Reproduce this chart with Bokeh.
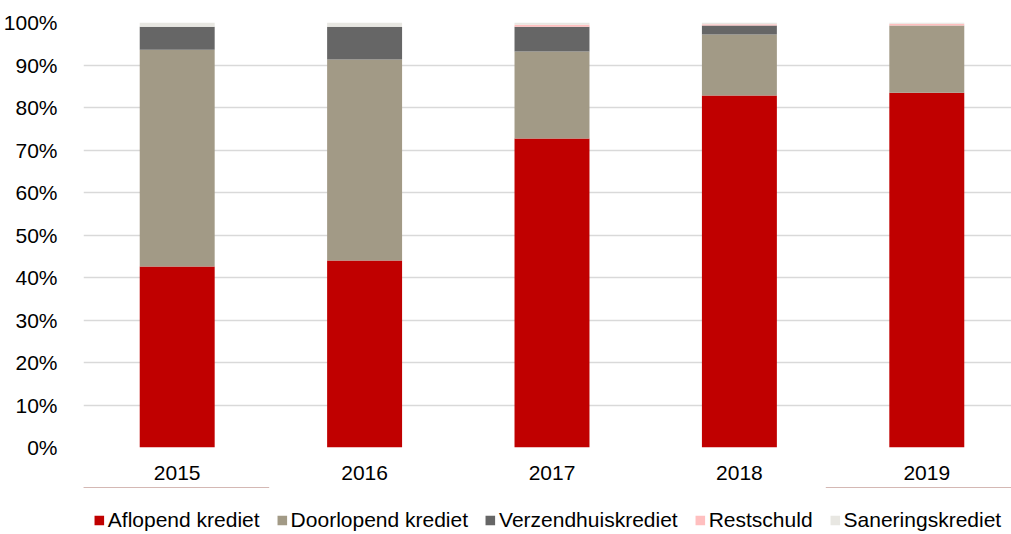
from bokeh.plotting import figure
from bokeh.layouts import column
from bokeh.models import ColumnDataSource, FixedTicker, PrintfTickFormatter, Range1d, Legend
from bokeh.embed import file_html
from bokeh.resources import INLINE

years = ["2015", "2016", "2017", "2018", "2019"]
series = ["Aflopend krediet", "Doorlopend krediet", "Verzendhuiskrediet", "Restschuld", "Saneringskrediet"]
aflopend = [42.6, 44.0, 72.7, 82.8, 83.5]
doorlopend = [51.0, 47.3, 20.5, 14.4, 15.8]
verzendhuis = [5.4, 7.7, 5.8, 2.1, 0.0]
restschuld = [0.0, 0.0, 0.5, 0.3, 0.4]
sanering = [1.0, 1.0, 0.5, 0.4, 0.3]
y_ticks = [0, 10, 20, 30, 40, 50, 60, 70, 80, 90, 100]

colors = ["#C00000", "#A29A86", "#666666", "#FFBFBF", "#E8E7E2"]
keys = ["a", "d", "v", "r", "s"]

src = ColumnDataSource(dict(x=list(range(len(years))), a=aflopend, d=doorlopend,
                            v=verzendhuis, r=restschuld, s=sanering))

# main chart
p = figure(width=1011, height=487, output_backend="svg", toolbar_location=None,
           x_range=Range1d(-0.5, 4.452), y_range=Range1d(0, 100),
           min_border_left=82, min_border_right=0, min_border_top=22, min_border_bottom=40)

p.vbar_stack(keys, x="x", width=0.40, color=colors, line_color=None, source=src)

p.outline_line_color = None
p.xgrid.grid_line_color = None
p.ygrid.grid_line_color = "#D9D9D9"
p.ygrid.grid_line_width = 1.5
p.ygrid.ticker = FixedTicker(ticks=y_ticks)

p.yaxis.ticker = FixedTicker(ticks=y_ticks)
p.yaxis.formatter = PrintfTickFormatter(format="%d%%")
p.xaxis.ticker = FixedTicker(ticks=list(range(len(years))))
p.xaxis.major_label_overrides = {i: y for i, y in enumerate(years)}

for ax in (p.xaxis, p.yaxis):
    ax.axis_line_color = None
    ax.major_tick_line_color = None
    ax.minor_tick_line_color = None
    ax.major_label_text_font = "Liberation Sans"
    ax.major_label_text_font_size = "21px"
    ax.major_label_text_color = "#000000"
p.yaxis.major_label_standoff = 20
p.xaxis.major_label_standoff = 12

# legend strip (same series; its bars lie outside the visible range)
q = figure(width=1011, height=47, output_backend="svg", toolbar_location=None,
           x_range=Range1d(0, 1), y_range=Range1d(-200, -100),
           x_axis_type=None, y_axis_type=None,
           min_border_left=0, min_border_right=0, min_border_top=0, min_border_bottom=0)
q.outline_line_color = None
q.outline_line_alpha = 0
q.background_fill_alpha = 0
q.border_fill_alpha = 0
leg_renderers = q.vbar_stack(keys, x="x", width=0.40, color=colors, line_color=None, source=src)

lg = Legend(items=[(s, [r]) for s, r in zip(series, leg_renderers)])
lg.location = "bottom"
lg.orientation = "horizontal"
lg.padding = 0
lg.margin = 2
lg.spacing = 16
lg.label_standoff = 3
lg.glyph_width = 12
lg.glyph_height = 12
lg.label_text_font = "Liberation Sans"
lg.label_text_font_size = "21px"
lg.label_text_color = "#000000"
lg.border_line_color = None
lg.background_fill_alpha = 0
q.add_layout(lg, "center")

layout = column(p, q, spacing=0)
open("out.html", "w").write(file_html(layout, INLINE))
